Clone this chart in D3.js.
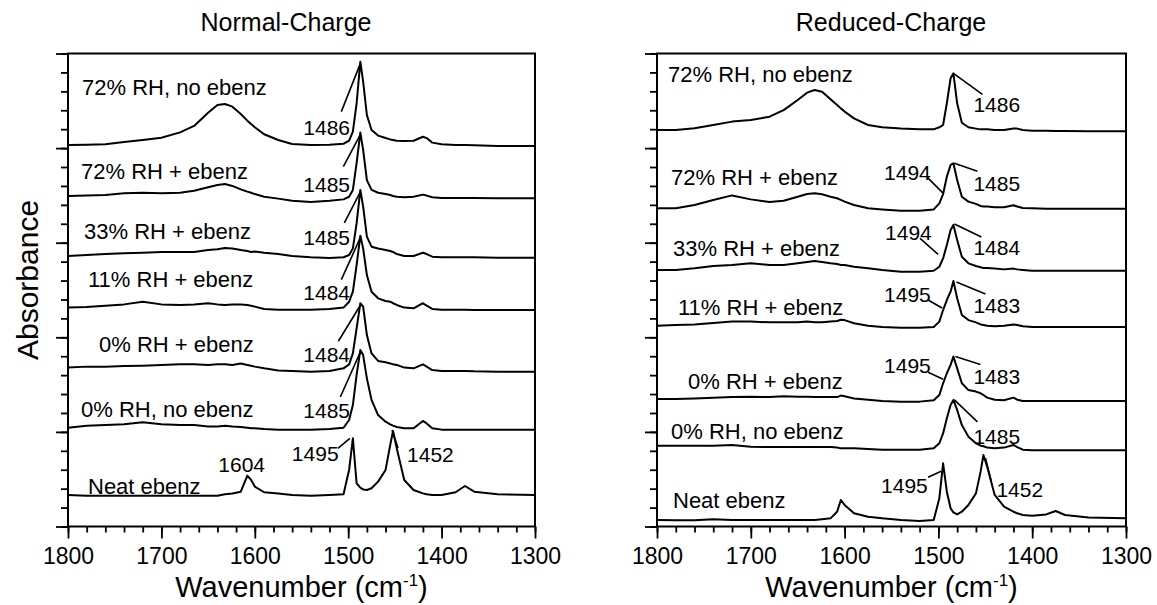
<!DOCTYPE html>
<html>
<head>
<meta charset="utf-8">
<script src="https://cdn.jsdelivr.net/npm/d3@7"></script>
<style>
    body { margin: 0; background: #fff; }
    svg { font-family: "Liberation Sans", Arial, sans-serif; }
</style>
</head>
<body>
<svg width="1157" height="605"></svg>
<script>
// sampled wavenumbers (cm-1), shared by every spectrum
const wavenumbers = [1800, 1780, 1760, 1740, 1720, 1700, 1680, 1665, 1650, 1640, 1632, 1624, 1615, 1608, 1604, 1600,
    1590, 1575, 1560, 1540, 1520, 1505, 1499, 1495, 1491, 1487, 1484, 1480, 1475, 1468, 1460, 1455, 1452, 1448, 1440,
    1430, 1420, 1416, 1410, 1400, 1385, 1375, 1365, 1340, 1300];

const traceNames = ["72% RH, no ebenz", "72% RH + ebenz", "33% RH + ebenz", "11% RH + ebenz",
    "0% RH + ebenz", "0% RH, no ebenz", "Neat ebenz"];

// Normal-Charge spectra (stacked absorbance, arbitrary units)
const normal72NoEbenz = [2.016, 2.018, 2.020, 2.032, 2.043, 2.055, 2.083, 2.117, 2.187, 2.228, 2.233, 2.219, 2.180, 2.145, 2.127, 2.110,
    2.073, 2.043, 2.022, 2.016, 2.018, 2.023, 2.039, 2.087, 2.237, 2.457, 2.351, 2.175, 2.096, 2.066, 2.053, 2.046, 2.043, 2.039, 2.038,
    2.039, 2.060, 2.053, 2.029, 2.020, 2.016, 2.016, 2.015, 2.011, 2.011];
const normal72Ebenz = [1.747, 1.749, 1.752, 1.761, 1.764, 1.761, 1.764, 1.775, 1.793, 1.805, 1.810, 1.800, 1.782, 1.770, 1.764, 1.757,
    1.743, 1.733, 1.722, 1.715, 1.722, 1.729, 1.743, 1.779, 1.920, 2.082, 1.990, 1.831, 1.779, 1.764, 1.757, 1.752, 1.747, 1.743, 1.740,
    1.743, 1.754, 1.749, 1.740, 1.736, 1.736, 1.736, 1.736, 1.735, 1.735];
const normal33Ebenz = [1.430, 1.435, 1.440, 1.444, 1.447, 1.451, 1.451, 1.451, 1.461, 1.465, 1.472, 1.469, 1.461, 1.456, 1.451, 1.453,
    1.447, 1.440, 1.430, 1.423, 1.419, 1.423, 1.435, 1.470, 1.602, 1.779, 1.691, 1.532, 1.479, 1.469, 1.461, 1.456, 1.451, 1.440, 1.430,
    1.430, 1.447, 1.440, 1.426, 1.423, 1.423, 1.423, 1.423, 1.421, 1.421];
const normal11Ebenz = [1.157, 1.160, 1.167, 1.174, 1.188, 1.174, 1.171, 1.174, 1.180, 1.174, 1.171, 1.174, 1.174, 1.171, 1.167, 1.162,
    1.150, 1.146, 1.146, 1.146, 1.150, 1.157, 1.188, 1.241, 1.382, 1.537, 1.470, 1.329, 1.241, 1.206, 1.192, 1.188, 1.180, 1.171, 1.157,
    1.153, 1.180, 1.167, 1.150, 1.146, 1.146, 1.146, 1.144, 1.144, 1.144];
const normal0Ebenz = [0.840, 0.845, 0.845, 0.848, 0.850, 0.854, 0.857, 0.857, 0.854, 0.857, 0.857, 0.854, 0.861, 0.854, 0.850, 0.845,
    0.836, 0.825, 0.822, 0.818, 0.822, 0.836, 0.857, 0.915, 1.047, 1.180, 1.162, 1.012, 0.915, 0.875, 0.868, 0.862, 0.857, 0.854, 0.840,
    0.836, 0.857, 0.845, 0.827, 0.822, 0.822, 0.822, 0.820, 0.818, 0.818];
const normal0NoEbenz = [0.522, 0.533, 0.536, 0.540, 0.551, 0.540, 0.536, 0.536, 0.529, 0.529, 0.533, 0.529, 0.526, 0.522, 0.519, 0.519,
    0.515, 0.512, 0.512, 0.512, 0.515, 0.522, 0.563, 0.642, 0.801, 0.933, 0.906, 0.783, 0.669, 0.589, 0.554, 0.540, 0.533, 0.526, 0.519,
    0.519, 0.558, 0.545, 0.519, 0.512, 0.512, 0.512, 0.512, 0.512, 0.512];
const normalNeat = [0.167, 0.163, 0.163, 0.163, 0.163, 0.163, 0.163, 0.163, 0.163, 0.163, 0.170, 0.174, 0.184, 0.269, 0.246, 0.211,
    0.181, 0.174, 0.167, 0.163, 0.167, 0.170, 0.300, 0.466, 0.228, 0.205, 0.196, 0.193, 0.202, 0.237, 0.299, 0.431, 0.505, 0.413, 0.246,
    0.193, 0.175, 0.170, 0.167, 0.167, 0.181, 0.214, 0.184, 0.170, 0.167];

// Reduced-Charge spectra
const reduced72NoEbenz = [2.096, 2.096, 2.105, 2.122, 2.140, 2.149, 2.166, 2.201, 2.254, 2.293, 2.307, 2.298, 2.258, 2.228, 2.210, 2.193,
    2.157, 2.122, 2.110, 2.103, 2.099, 2.099, 2.110, 2.122, 2.237, 2.369, 2.395, 2.237, 2.134, 2.110, 2.103, 2.099, 2.099, 2.099, 2.096,
    2.096, 2.103, 2.103, 2.096, 2.092, 2.092, 2.090, 2.090, 2.089, 2.089];
const reduced72Ebenz = [1.682, 1.682, 1.699, 1.726, 1.750, 1.729, 1.715, 1.722, 1.743, 1.757, 1.761, 1.756, 1.743, 1.735, 1.726, 1.717,
    1.699, 1.682, 1.676, 1.669, 1.669, 1.676, 1.708, 1.757, 1.849, 1.911, 1.920, 1.831, 1.743, 1.717, 1.705, 1.694, 1.691, 1.691, 1.687,
    1.687, 1.698, 1.691, 1.683, 1.682, 1.680, 1.680, 1.680, 1.680, 1.680];
const reduced33Ebenz = [1.356, 1.356, 1.365, 1.377, 1.382, 1.391, 1.382, 1.382, 1.391, 1.398, 1.403, 1.398, 1.391, 1.387, 1.382, 1.382,
    1.373, 1.365, 1.356, 1.347, 1.347, 1.352, 1.373, 1.417, 1.488, 1.567, 1.594, 1.514, 1.426, 1.391, 1.377, 1.370, 1.366, 1.366, 1.363,
    1.359, 1.363, 1.359, 1.356, 1.352, 1.352, 1.352, 1.352, 1.352, 1.352];
const reduced11Ebenz = [1.061, 1.065, 1.068, 1.076, 1.083, 1.083, 1.079, 1.079, 1.079, 1.083, 1.079, 1.079, 1.083, 1.086, 1.093, 1.091,
    1.074, 1.061, 1.054, 1.051, 1.051, 1.054, 1.083, 1.144, 1.197, 1.241, 1.298, 1.206, 1.118, 1.091, 1.079, 1.068, 1.065, 1.061, 1.058,
    1.061, 1.068, 1.065, 1.058, 1.054, 1.054, 1.054, 1.054, 1.054, 1.054];
const reduced0Ebenz = [0.674, 0.674, 0.677, 0.681, 0.684, 0.686, 0.684, 0.688, 0.686, 0.686, 0.684, 0.684, 0.684, 0.684, 0.692, 0.688,
    0.677, 0.670, 0.663, 0.660, 0.660, 0.667, 0.695, 0.757, 0.810, 0.854, 0.898, 0.836, 0.757, 0.721, 0.713, 0.704, 0.695, 0.681, 0.670,
    0.667, 0.681, 0.670, 0.663, 0.663, 0.663, 0.663, 0.663, 0.663, 0.663];
const reduced0NoEbenz = [0.427, 0.427, 0.427, 0.427, 0.431, 0.422, 0.420, 0.420, 0.420, 0.420, 0.420, 0.420, 0.420, 0.417, 0.413, 0.413,
    0.413, 0.410, 0.406, 0.406, 0.406, 0.413, 0.440, 0.492, 0.572, 0.642, 0.669, 0.616, 0.536, 0.475, 0.440, 0.427, 0.424, 0.417, 0.413,
    0.417, 0.431, 0.420, 0.406, 0.403, 0.403, 0.403, 0.403, 0.403, 0.403];
const reducedNeat = [0.034, 0.033, 0.033, 0.038, 0.034, 0.034, 0.034, 0.034, 0.034, 0.034, 0.034, 0.038, 0.043, 0.078, 0.140, 0.114,
    0.070, 0.052, 0.043, 0.034, 0.029, 0.034, 0.149, 0.334, 0.184, 0.096, 0.075, 0.064, 0.078, 0.114, 0.175, 0.290, 0.378, 0.316, 0.167,
    0.105, 0.078, 0.070, 0.061, 0.057, 0.064, 0.082, 0.061, 0.047, 0.043];

// peak annotations: [trace index, wavenumber of the marked point, label]
const normalPeaks = [[0, 1487, "1486"], [1, 1487, "1485"], [2, 1487, "1485"], [3, 1487, "1484"], [4, 1487, "1484"],
    [5, 1487, "1485"], [6, 1608, "1604"], [6, 1495, "1495"], [6, 1452, "1452"]];
const reducedPeaks = [[0, 1484, "1486"], [1, 1484, "1485"], [1, 1495, "1494"], [2, 1484, "1484"], [2, 1495, "1494"],
    [3, 1484, "1483"], [3, 1495, "1495"], [4, 1484, "1483"], [4, 1495, "1495"], [5, 1484, "1485"], [6, 1495, "1495"], [6, 1452, "1452"]];

const xTicksMajor = [1800, 1700, 1600, 1500, 1400, 1300];

// layout: label offsets in pixels (text dx, dy; leader line from/to relative to the marked point)
const normalPeakLayout = [
    {t: [-57, 73], l: [-19, 50, 0, 2]}, {t: [-57, 59], l: [-17, 34, 0, 2]}, {t: [-57, 55], l: [-16, 33, 0, 2]},
    {t: [-57, 64], l: [-19, 44, 0, 2]}, {t: [-57, 59], l: [-22, 38, 0, 2]}, {t: [-57, 68], l: [-20, 47, 0, 2]},
    {t: [-29, -4], l: null}, {t: [-61, 23], l: [-15, 10, -3, 0]}, {t: [14, 31], l: [5, 17, -1, -1]}
];
const reducedPeakLayout = [
    {t: [20, 39], l: [0, 0, 29, 21]}, {t: [20, 28], l: [1, 0, 24, 8]}, {t: [-59, -14], l: [-16, -17, 0, -1]},
    {t: [20, 30], l: [1, -1, 28, 12]}, {t: [-58, -18], l: [-23, -20, -5, -4]}, {t: [20, 32], l: [3, 1, 32, 13]},
    {t: [-59, -8], l: [-15, -10, -1, -2]}, {t: [20, 27], l: [2, 0, 27, 8]}, {t: [-59, -10], l: [-15, -11, 0, -4]},
    {t: [20, 44], l: [1, 0, 24, 22]}, {t: [-62, 30], l: [-15, 14, -2, 8]}, {t: [13, 42], l: [8, 27, 2, 3]}
];
const normalNameLayout = [[14, 41], [13, 125.5], [16, 185.5], [20, 233.5], [31, 298], [13, 363], [20, 440]];
const reducedNameLayout = [[11, 28], [14, 131.5], [16, 202.5], [21, 261.5], [31, 335], [14, 385], [16, 454]];

function drawPanel(svg, opt) {
    let top = 53.5, bottom = 526.5;

    let x = d3.scaleLinear().domain([1800, 1300]).range([opt.x0, opt.x1]);
    let y = d3.scaleLinear().domain([0, 2.5]).range([bottom, top]);

    let g = svg.append("g");

    // x axis: minor ticks every 20, labelled ticks every 100
    g.append("g")
        .attr("transform", "translate(0," + bottom + ")")
        .call(d3.axisBottom(x).tickValues(d3.range(1300, 1801, 20)).tickSize(6).tickFormat(""))
        .call(a => a.select(".domain").remove());
    g.append("g")
        .attr("transform", "translate(0," + bottom + ")")
        .call(d3.axisBottom(x).tickValues(xTicksMajor).tickSize(12).tickPadding(9).tickFormat(d3.format("d")))
        .call(a => a.select(".domain").remove())
        .selectAll("text")
        .attr("font-size", 23)
        .attr("font-family", "Liberation Sans, Arial, sans-serif")
        .attr("fill", "#000");

    // y axis: unlabelled ticks
    g.append("g")
        .attr("transform", "translate(" + opt.x0 + ",0)")
        .call(d3.axisLeft(y).tickValues(d3.range(0, 2.51, 0.1)).tickSize(7).tickFormat(""))
        .call(a => a.select(".domain").remove());
    g.append("g")
        .attr("transform", "translate(" + opt.x0 + ",0)")
        .call(d3.axisLeft(y).tickValues(d3.range(0, 2.51, 0.5)).tickSize(12).tickFormat(""))
        .call(a => a.select(".domain").remove());

    g.selectAll(".tick line").attr("stroke", "#000").attr("stroke-width", 1.8);

    g.append("rect")
        .attr("x", opt.x0)
        .attr("y", top)
        .attr("width", opt.x1 - opt.x0)
        .attr("height", bottom - top)
        .attr("fill", "none")
        .attr("stroke", "#000")
        .attr("stroke-width", 2);

    let line = d3.line()
        .x((d, i) => x(wavenumbers[i]))
        .y(d => y(d));

    g.selectAll("path.trace")
        .data(opt.series)
        .enter()
        .append("path")
        .attr("class", "trace")
        .attr("d", line)
        .attr("fill", "none")
        .attr("stroke", "#000")
        .attr("stroke-width", 2)
        .attr("stroke-linejoin", "round");

    // names of the spectra
    g.selectAll("text.name")
        .data(traceNames)
        .enter()
        .append("text")
        .attr("class", "name")
        .attr("x", (d, i) => opt.x0 + opt.nameLayout[i][0])
        .attr("y", (d, i) => top + opt.nameLayout[i][1])
        .attr("font-size", 22)
        .text(d => d);

    // peak positions
    opt.peaks.forEach(function (p, k) {
        let lay = opt.peakLayout[k];
        let px = x(p[1]);
        let py = y(opt.series[p[0]][wavenumbers.indexOf(p[1])]);
        g.append("text")
            .attr("x", px + lay.t[0])
            .attr("y", py + lay.t[1])
            .attr("font-size", 21)
            .text(p[2]);
        if (lay.l) {
            g.append("line")
                .attr("x1", px + lay.l[0]).attr("y1", py + lay.l[1])
                .attr("x2", px + lay.l[2]).attr("y2", py + lay.l[3])
                .attr("stroke", "#000")
                .attr("stroke-width", 1.6);
        }
    });

    svg.append("text")
        .attr("x", opt.titleX)
        .attr("y", 31)
        .attr("text-anchor", "middle")
        .attr("font-size", 25)
        .text(opt.title);

    let xt = svg.append("text")
        .attr("x", (opt.x0 + opt.x1) / 2)
        .attr("y", 597)
        .attr("text-anchor", "middle")
        .attr("font-size", 29);
    xt.append("tspan").text("Wavenumber (cm");
    xt.append("tspan").attr("dy", -11).attr("font-size", 17).text("-1");
    xt.append("tspan").attr("dy", 11).text(")");
}

let svg = d3.select("svg");
svg.append("rect").attr("width", 1157).attr("height", 605).attr("fill", "#fff");

drawPanel(svg, {
    title: "Normal-Charge", titleX: 286, x0: 68, x1: 535,
    series: [normal72NoEbenz, normal72Ebenz, normal33Ebenz, normal11Ebenz, normal0Ebenz, normal0NoEbenz, normalNeat],
    peaks: normalPeaks, peakLayout: normalPeakLayout, nameLayout: normalNameLayout
});
drawPanel(svg, {
    title: "Reduced-Charge", titleX: 891, x0: 657, x1: 1126,
    series: [reduced72NoEbenz, reduced72Ebenz, reduced33Ebenz, reduced11Ebenz, reduced0Ebenz, reduced0NoEbenz, reducedNeat],
    peaks: reducedPeaks, peakLayout: reducedPeakLayout, nameLayout: reducedNameLayout
});

svg.append("text")
    .attr("transform", "translate(38,280) rotate(-90)")
    .attr("text-anchor", "middle")
    .attr("font-size", 30)
    .text("Absorbance");
</script>
</body>
</html>
